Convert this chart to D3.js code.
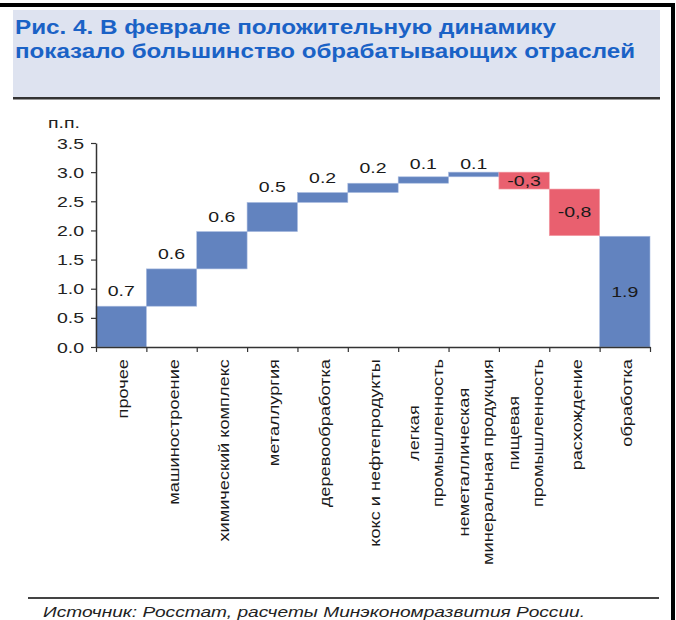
<!DOCTYPE html>
<html>
<head>
<meta charset="utf-8">
<script src="https://cdn.jsdelivr.net/npm/d3@7"></script>
<style>
  body { margin: 0; background: #fff; }
  svg { display: block; font-family: "Liberation Sans", Arial, sans-serif; }
</style>
</head>
<body>
<div id="chart"></div>
<script>
// ---- data ----
const categories = [
  ["прочее"],
  ["машиностроение"],
  ["химический комплекс"],
  ["металлургия"],
  ["деревообработка"],
  ["кокс и нефтепродукты"],
  ["легкая", "промышленность"],
  ["неметаллическая", "минеральная продукция"],
  ["пищевая", "промышленность"],
  ["расхождение"],
  ["обработка"]
];
// contributions, п.п. (last one is the total bar)
const contributions = [0.7, 0.64, 0.64, 0.5, 0.17, 0.16, 0.11, 0.08, -0.29, -0.8];
const totalValue = 1.9;
const valueLabels = ["0.7", "0.6", "0.6", "0.5", "0.2", "0.2", "0.1", "0.1", "-0,3", "-0,8", "1.9"];
const yTicks = [0, 0.5, 1, 1.5, 2, 2.5, 3, 3.5];

const titleLines = [
  "Рис. 4. В феврале положительную динамику",
  "показало большинство обрабатывающих отраслей"
];
const unitLabel = "п.п.";
const sourceText = "Источник: Росстат, расчеты Минэкономразвития России.";

const width = 676;
const height = 620;
const SX = 1.3; // the original text is drawn wider than Arial

const blue = "#6283bf";
const red = "#e9606f";

const svg = d3.select("#chart")
  .append("svg")
  .attr("width", width)
  .attr("height", height);

// ---- frame / header ----
svg.append("rect").attr("x", 0).attr("y", 3).attr("width", 675).attr("height", 4).attr("fill", "#000");
svg.append("rect").attr("x", 671).attr("y", 3).attr("width", 4).attr("height", height).attr("fill", "#000");
svg.append("rect").attr("x", 13).attr("y", 10).attr("width", 647).attr("height", 87).attr("fill", "#dee3f0");
svg.append("rect").attr("x", 13).attr("y", 97).attr("width", 647).attr("height", 2.5).attr("fill", "#333");

const titleLens = [541, 620];
titleLines.forEach((t, i) => {
  svg.append("text")
    .attr("x", 15)
    .attr("y", 34 + i * 24)
    .attr("fill", "#1a62c6")
    .attr("font-size", 21)
    .attr("font-weight", "bold")
    .attr("textLength", titleLens[i])
    .attr("lengthAdjust", "spacingAndGlyphs")
    .text(t);
});

// ---- waterfall layout ----
const steps = [];
let run = 0;
contributions.forEach((v, i) => {
  steps.push({ i, start: run, end: run + v, v, total: false });
  run += v;
});
steps.push({ i: contributions.length, start: 0, end: totalValue, v: totalValue, total: true });

const x = d3.scaleBand()
  .domain(d3.range(categories.length))
  .range([96, 650])
  .padding(0);

const xEdge = d3.scaleLinear()
  .domain([0, categories.length])
  .range([96, 650]);

const y = d3.scaleLinear()
  .domain([0, 3.5])
  .range([347, 143]);

// bars
svg.append("g")
  .selectAll("rect")
  .data(steps)
  .join("rect")
  .attr("x", d => x(d.i))
  .attr("width", x.bandwidth())
  .attr("y", d => y(Math.max(d.start, d.end)))
  .attr("height", d => Math.abs(y(d.start) - y(d.end)))
  .attr("fill", d => d.v < 0 ? red : blue)
  .attr("stroke", d => d.v < 0 ? "#f3a0a8" : "#a9bbe0")
  .attr("stroke-width", 0.6);

// value labels
svg.append("g")
  .selectAll("text")
  .data(steps)
  .join("text")
  .attr("transform", d => {
    const cx = x(d.i) + x.bandwidth() / 2;
    let cy;
    if (d.total || d.v < 0) cy = (y(d.start) + y(d.end)) / 2 + 5;
    else cy = Math.max(y(d.end) - 10, y(3.05));
    return `translate(${cx},${cy}) scale(${SX},1)`;
  })
  .attr("text-anchor", "middle")
  .attr("font-size", 15)
  .attr("fill", "#1a1a1a")
  .text((d, i) => valueLabels[i]);

// y axis
const yAxis = svg.append("g")
  .attr("transform", "translate(96,0)")
  .call(d3.axisLeft(y).tickValues(yTicks).tickFormat(d3.format(".1f")).tickSize(5).tickSizeOuter(0));
yAxis.select(".domain").attr("stroke", "#333").attr("stroke-width", 1.5);
yAxis.selectAll(".tick line").attr("stroke", "#333").attr("stroke-width", 1.2);
yAxis.selectAll(".tick text")
  .attr("x", null).attr("dy", null)
  .attr("transform", "translate(-12,5) scale(1.3,1)")
  .attr("font-size", 15)
  .attr("font-family", "Liberation Sans, Arial, sans-serif")
  .attr("fill", "#222");

svg.append("text")
  .attr("transform", `translate(48,128) scale(${SX},1)`)
  .attr("font-size", 15)
  .attr("fill", "#222")
  .text(unitLabel);

// x axis with ticks at category edges
const xAxis = svg.append("g")
  .attr("transform", `translate(0,${y(0)})`)
  .call(d3.axisBottom(xEdge).tickValues(d3.range(categories.length + 1)).tickFormat("").tickSize(5).tickSizeOuter(0));
xAxis.select(".domain").attr("stroke", "#333").attr("stroke-width", 1.5);
xAxis.selectAll(".tick line").attr("stroke", "#333").attr("stroke-width", 1.2);

// rotated category labels, multi-line centred on each other
const labelG = svg.append("g");
categories.forEach((lines, i) => {
  const cx = x(i) + x.bandwidth() / 2 + 2;
  const texts = lines.map(l => labelG.append("text")
    .attr("font-size", 14)
    .attr("fill", "#1a1a1a")
    .attr("text-anchor", "middle")
    .attr("dominant-baseline", "central")
    .text(l));
  const maxLen = d3.max(texts, t => t.node().getComputedTextLength()) * SX;
  texts.forEach((t, j) => {
    const tx = cx + (j - (lines.length - 1) / 2) * 24;
    const ty = y(0) + 12 + maxLen / 2;
    t.attr("transform", `translate(${tx},${ty}) rotate(-90) scale(${SX},1)`);
  });
});

// ---- source ----
svg.append("rect").attr("x", 28).attr("y", 597).attr("width", 631).attr("height", 2).attr("fill", "#444");
svg.append("text")
  .attr("x", 43)
  .attr("y", 617)
  .attr("font-size", 15)
  .attr("font-style", "italic")
  .attr("fill", "#222")
  .attr("textLength", 542)
  .attr("lengthAdjust", "spacingAndGlyphs")
  .text(sourceText);
</script>
</body>
</html>
